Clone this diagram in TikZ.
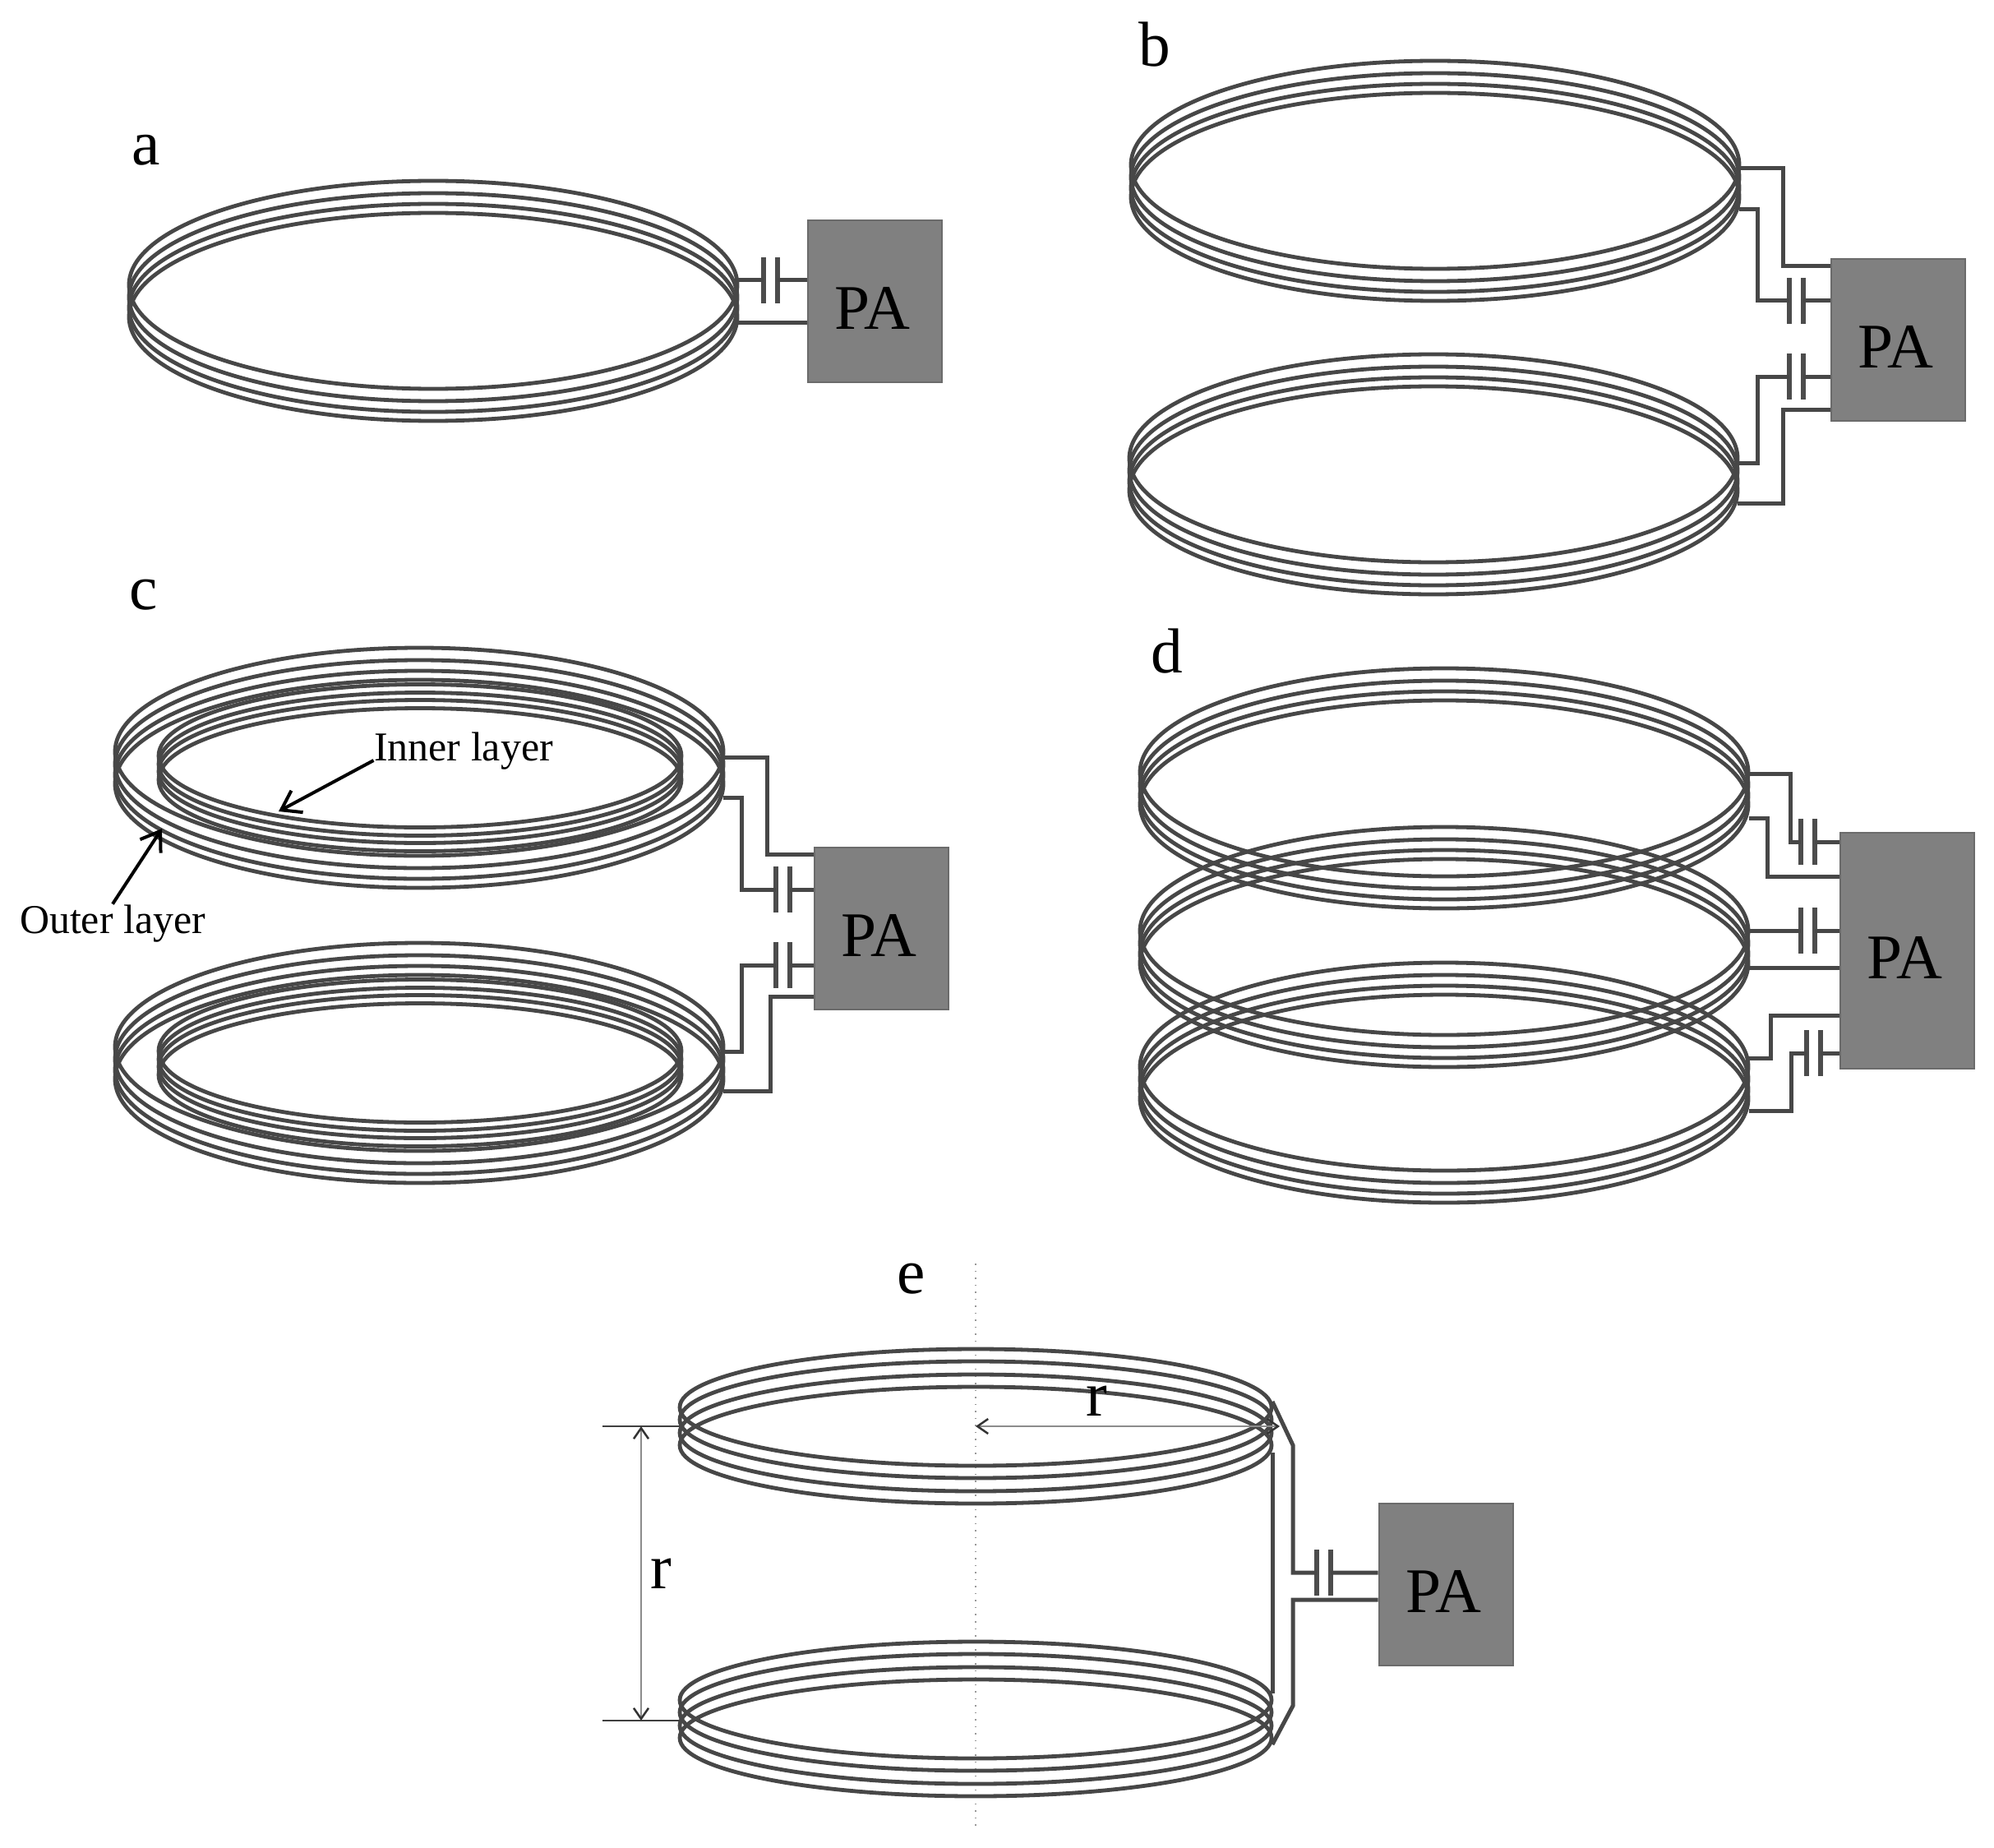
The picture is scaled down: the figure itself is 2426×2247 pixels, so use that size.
\documentclass[tikz,border=0pt]{standalone}
\usepackage{fontspec}
\setmainfont{Liberation Serif}
\usetikzlibrary{arrows.meta}

\newcommand{\turnsOuter}{-19.5,-4.5,8.5,19.5}
\newcommand{\turnsInner}{-14.5,-4.5,4.5,14.5}
\newcommand{\turnsEven}{-23,-8,8,23}
\newcommand{\DrawCoil}[5]{
    \foreach \dy in #5 {
        \draw[coil] (#1,{#2+\dy}) ellipse [x radius=#3, y radius=#4];
    }
}
\newcommand{\DrawCap}[3]{
    \coordinate (#1-l) at (#2,#3);
    \coordinate (#1-r) at ({#2+17},#3);
    \draw[plate] (#2,{#3-28}) -- (#2,{#3+28});
    \draw[plate] ({#2+17},{#3-28}) -- ({#2+17},{#3+28});
}

\begin{document}
\begin{tikzpicture}[
  x=0.1mm, y=-0.1mm,
  coil/.style={line width=0.48mm, draw=black!72},
  wire/.style={line width=0.5mm, draw=black!72, line join=miter},
  plate/.style={line width=0.6mm, draw=black!70},
  pabox/.style={rectangle, fill=black!50, draw=black!58, line width=0.2mm, inner sep=0pt,
    minimum width=16.3mm, minimum height=19.7mm, text height=6.8mm, text depth=0pt,
    font=\fontsize{22}{24}\selectfont},
  panel/.style={inner sep=0pt, font=\fontsize{22}{24}\selectfont},
  layer/.style={inner sep=0pt, anchor=base, font=\fontsize{14.2}{16}\selectfont},
  pointer/.style={line width=0.4mm, black, -{Straight Barb[length=2.2mm,width=3mm]}},
  dimline/.style={line width=0.25mm, black!45, {Straight Barb[black!80,length=1.3mm,width=1.8mm]}-{Straight Barb[black!80,length=1.3mm,width=1.8mm]}},
  extline/.style={line width=0.18mm, black!75}
  ]
  \useasboundingbox (0,0) rectangle (2426,2247);

  \node[panel] (labelA) at (178,183) {a};
  \DrawCoil{527}{366}{370}{126.5}{\turnsOuter}
  \node[pabox] (paA) at (1064.5,366.5) {PA\kern0.6mm};
  \coordinate (coilAu) at (897,341);
  \coordinate (coilAl) at (897,393);
  \DrawCap{capA}{929}{341}
  \draw[wire] (coilAu) -- (capA-l) (capA-r) -- (capA-r -| paA.west);
  \draw[wire] (coilAl) -- (coilAl -| paA.west);

  \node[panel] (labelB) at (1405,54) {b};
  \DrawCoil{1746}{220}{370}{126.5}{\turnsOuter}
  \DrawCoil{1744}{577}{370}{126.5}{\turnsOuter}
  \node[pabox] (paB) at (2309.5,413.5) {PA\kern0.6mm};
  \coordinate (coilBa) at (2116,205);
  \coordinate (coilBb) at (2116,255);
  \coordinate (coilBc) at (2114,563);
  \coordinate (coilBd) at (2114,612);
  \coordinate (busBa) at (2169,324);
  \coordinate (busBd) at (2169,498);
  \DrawCap{capBu}{2177}{366}
  \DrawCap{capBl}{2177}{458}
  \draw[wire] (coilBa) -| (busBa) -- (busBa -| paB.west);
  \draw[wire] (coilBb) -- (2138,255) |- (capBu-l) (capBu-r) -- (capBu-r -| paB.west);
  \draw[wire] (coilBc) -- (2138,563) |- (capBl-l) (capBl-r) -- (capBl-r -| paB.west);
  \draw[wire] (coilBd) -| (busBd) -- (busBd -| paB.west);

  \node[panel] (labelC) at (175,724) {c};
  \DrawCoil{510}{934}{370}{126.5}{\turnsOuter}
  \DrawCoil{511}{934}{318}{87}{\turnsInner}
  \DrawCoil{510}{1293}{370}{126.5}{\turnsOuter}
  \DrawCoil{511}{1293}{318}{87}{\turnsInner}
  \node[pabox] (paC) at (1072.5,1129) {PA\kern0.6mm};
  \coordinate (coilCa) at (880,921);
  \coordinate (coilCb) at (880,970);
  \coordinate (coilCc) at (880,1279);
  \coordinate (coilCd) at (880,1327);
  \coordinate (busCa) at (933,1039);
  \coordinate (busCd) at (937,1212);
  \DrawCap{capCu}{944}{1082}
  \DrawCap{capCl}{944}{1174}
  \draw[wire] (coilCa) -| (busCa) -- (busCa -| paC.west);
  \draw[wire] (coilCb) -- (902,970) |- (capCu-l) (capCu-r) -- (capCu-r -| paC.west);
  \draw[wire] (coilCc) -- (902,1279) |- (capCl-l) (capCl-r) -- (capCl-r -| paC.west);
  \draw[wire] (coilCd) -| (busCd) -- (busCd -| paC.west);
  \node[layer] (layerIn) at (564,925) {Inner layer};
  \node[layer] (layerOut) at (137,1135) {Outer layer};
  \coordinate (tipIn) at (339,987);
  \coordinate (tipOut) at (197,1008);
  \draw[pointer] (layerIn.base west) -- (tipIn);
  \draw[pointer] (layerOut.north) -- (tipOut);

  \node[panel] (labelD) at (1420,792) {d};
  \DrawCoil{1757}{959}{370}{126.5}{\turnsOuter}
  \DrawCoil{1757}{1152}{370}{126.5}{\turnsOuter}
  \DrawCoil{1757}{1317}{370}{126.5}{\turnsOuter}
  \node[pabox, minimum height=28.7mm] (paD) at (2320,1156.5) {PA\kern0.6mm};
  \coordinate (coilDa) at (2128,941);
  \coordinate (coilDb) at (2128,995);
  \coordinate (coilDc) at (2128,1132);
  \coordinate (coilDd) at (2128,1177);
  \coordinate (coilDe) at (2128,1287);
  \coordinate (coilDf) at (2128,1351);
  \coordinate (busDb) at (2150,1066);
  \coordinate (busDe) at (2154,1235);
  \DrawCap{capDu}{2191}{1024}
  \DrawCap{capDm}{2191}{1132}
  \DrawCap{capDl}{2198}{1281}
  \draw[wire] (coilDa) -- (2178,941) |- (capDu-l) (capDu-r) -- (capDu-r -| paD.west);
  \draw[wire] (coilDb) -| (busDb) -- (busDb -| paD.west);
  \draw[wire] (coilDc) -- (capDm-l) (capDm-r) -- (capDm-r -| paD.west);
  \draw[wire] (coilDd) -- (coilDd -| paD.west);
  \draw[wire] (coilDe) -| (busDe) -- (busDe -| paD.west);
  \draw[wire] (coilDf) -- (2179,1351) |- (capDl-l) (capDl-r) -- (capDl-r -| paD.west);

  \node[panel] (labelE) at (1109,1556) {e};
  \draw[black!40, line width=0.15mm, dotted] (1187,1537) -- (1187,2225);
  \DrawCoil{1187}{1735}{360}{71}{\turnsEven}
  \DrawCoil{1187}{2091}{360}{71}{\turnsEven}
  \node[pabox] (paE) at (1759,1927) {PA\kern0.6mm};
  \coordinate (coilEu) at (1548,1705);
  \coordinate (coilEl) at (1548,2122);
  \coordinate (railEu) at (1573,1758);
  \coordinate (railEl) at (1573,2075);
  \coordinate (busEl) at (1573,1946);
  \DrawCap{capE}{1602}{1913}
  \draw[wire] (coilEu) -- (railEu) |- (capE-l) (capE-r) -- (capE-r -| paE.west);
  \draw[wire] (coilEl) -- (railEl) -- (busEl) -- (busEl -| paE.west);
  \draw[wire] (1548,1767) -- (1548,2060);

  \coordinate (dimTop) at (780,1735);
  \coordinate (dimBot) at (780,2093);
  \coordinate (dimCentre) at (1187,1735);
  \coordinate (dimRim) at (1557,1735);
  \draw[extline] (733,1735) -- (827,1735);
  \draw[extline] (733,2093) -- (827,2093);
  \draw[dimline] (dimTop) -- (dimBot);
  \draw[dimline] (dimCentre) -- (dimRim);
  \node[panel] (labelV) at (804,1914) {r};
  \node[panel] (labelH) at (1334,1704) {r};
\end{tikzpicture}
\end{document}
